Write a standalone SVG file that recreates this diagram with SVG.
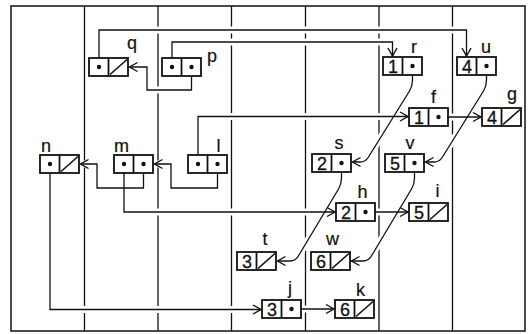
<svg xmlns="http://www.w3.org/2000/svg" width="530" height="334" viewBox="0 0 530 334">
<defs>
<style>
.frame{fill:none;stroke:#111;stroke-width:1.5}
.col{fill:none;stroke:#111;stroke-width:1.3}
.box{fill:#fff;stroke:#111;stroke-width:1.8}
.nil{stroke:#111;stroke-width:1.6}
.dot{fill:#111}
.num{font-family:"Liberation Sans",Arial,sans-serif;font-size:18px;fill:#111;stroke:#111;stroke-width:0.3;text-anchor:middle}
.lab{font-family:"Liberation Sans",Arial,sans-serif;font-size:18px;fill:#111;stroke:#111;stroke-width:0.2}
.conn path{fill:none;stroke:#111;stroke-width:1.3;marker-end:url(#arr)}
.gap path{fill:none;stroke:#fff;stroke-width:7}
</style>
<marker id="arr" markerUnits="userSpaceOnUse" markerWidth="12" markerHeight="12" refX="0" refY="0" viewBox="-10 -6 12 12" orient="auto" overflow="visible">
<path d="M-8,-4.5 L0,0 L-8,4.5" fill="none" stroke="#111" stroke-width="1.4"/>
</marker>
</defs>
<rect width="530" height="334" fill="#fff"/>
<rect class="frame" x="11" y="6" width="514" height="325"/>
<g id="columns">
<line class="col" x1="84.5" y1="6" x2="84.5" y2="331"/>
<line class="col" x1="158" y1="6" x2="158" y2="331"/>
<line class="col" x1="231.5" y1="6" x2="231.5" y2="331"/>
<line class="col" x1="305.5" y1="6" x2="305.5" y2="331"/>
<line class="col" x1="379" y1="6" x2="379" y2="331"/>
<line class="col" x1="452.5" y1="6" x2="452.5" y2="331"/>
</g>
<g id="gaps" class="gap">
<path d="M99,67 V30 H466.5 V56"/>
<path d="M172,67 V42 H392.5 V56"/>
<path d="M191.5,67 V90 H147 V67 H129.5"/>
<path d="M412.5,66 L412.5,80 Q412.5,86 409.5,91 L368.5,157 Q365.5,162 360,162 L352.5,162"/>
<path d="M486.5,66 L486.5,80 Q486.5,86 483.5,91 L442.5,157 Q439.5,162 434,162 L425.5,162"/>
<path d="M198,164 V116.5 H408"/>
<path d="M438.5,117 H481"/>
<path d="M217.5,164 V188 H171 V164 H154.5"/>
<path d="M143.5,164 V188 H97 V164 H80.5"/>
<path d="M124,164 V212 H335"/>
<path d="M365.5,212 H408"/>
<path d="M341.5,163 L341.5,178 Q341.5,184 338.5,189 L299,255 Q296,261 290,261 H277.5"/>
<path d="M414.5,163 L414.5,178 Q414.5,184 411.5,189 L372,255 Q369,261 363,261 H351.5"/>
<path d="M50,164 V309.5 H261"/>
<path d="M291.5,309 H334"/>
</g>
<g id="connectors" class="conn">
<path d="M99,67 V30 H466.5 V56"/>
<path d="M172,67 V42 H392.5 V56"/>
<path d="M191.5,67 V90 H147 V67 H129.5"/>
<path d="M412.5,66 L412.5,80 Q412.5,86 409.5,91 L368.5,157 Q365.5,162 360,162 L352.5,162"/>
<path d="M486.5,66 L486.5,80 Q486.5,86 483.5,91 L442.5,157 Q439.5,162 434,162 L425.5,162"/>
<path d="M198,164 V116.5 H408"/>
<path d="M438.5,117 H481"/>
<path d="M217.5,164 V188 H171 V164 H154.5"/>
<path d="M143.5,164 V188 H97 V164 H80.5"/>
<path d="M124,164 V212 H335"/>
<path d="M365.5,212 H408"/>
<path d="M341.5,163 L341.5,178 Q341.5,184 338.5,189 L299,255 Q296,261 290,261 H277.5"/>
<path d="M414.5,163 L414.5,178 Q414.5,184 411.5,189 L372,255 Q369,261 363,261 H351.5"/>
<path d="M50,164 V309.5 H261"/>
<path d="M291.5,309 H334"/>
</g>
<g id="q"><rect class="box" x="89" y="58" width="39" height="18"/><line class="box" x1="108.5" y1="58" x2="108.5" y2="76"/><circle class="dot" cx="99" cy="67" r="2.2"/><line class="nil" x1="110" y1="74.5" x2="127" y2="59.5"/><text class="lab" x="127" y="49">q</text></g>
<g id="p"><rect class="box" x="162" y="58" width="39" height="18"/><line class="box" x1="181.5" y1="58" x2="181.5" y2="76"/><circle class="dot" cx="172" cy="67" r="2.2"/><circle class="dot" cx="191.5" cy="67" r="2.2"/><text class="lab" x="207" y="62">p</text></g>
<g id="r"><rect class="box" x="383" y="57" width="39" height="18"/><line class="box" x1="402.5" y1="57" x2="402.5" y2="75"/><text class="num" x="393" y="72.5">1</text><circle class="dot" cx="412.5" cy="66" r="2.2"/><text class="lab" x="411" y="53">r</text></g>
<g id="u"><rect class="box" x="457" y="57" width="39" height="18"/><line class="box" x1="476.5" y1="57" x2="476.5" y2="75"/><text class="num" x="467" y="72.5">4</text><circle class="dot" cx="486.5" cy="66" r="2.2"/><text class="lab" x="481" y="53">u</text></g>
<g id="f"><rect class="box" x="409" y="108" width="39" height="18"/><line class="box" x1="428.5" y1="108" x2="428.5" y2="126"/><text class="num" x="419" y="123.5">1</text><circle class="dot" cx="438.5" cy="117" r="2.2"/><text class="lab" x="431" y="103">f</text></g>
<g id="g"><rect class="box" x="482" y="108" width="39" height="18"/><line class="box" x1="501.5" y1="108" x2="501.5" y2="126"/><text class="num" x="492" y="123.5">4</text><line class="nil" x1="503" y1="124.5" x2="520" y2="109.5"/><text class="lab" x="507" y="100">g</text></g>
<g id="n"><rect class="box" x="40" y="155" width="39" height="18"/><line class="box" x1="59.5" y1="155" x2="59.5" y2="173"/><circle class="dot" cx="50" cy="164" r="2.2"/><line class="nil" x1="61" y1="171.5" x2="78" y2="156.5"/><text class="lab" x="41" y="152">n</text></g>
<g id="m"><rect class="box" x="114" y="155" width="39" height="18"/><line class="box" x1="133.5" y1="155" x2="133.5" y2="173"/><circle class="dot" cx="124" cy="164" r="2.2"/><circle class="dot" cx="143.5" cy="164" r="2.2"/><text class="lab" x="114" y="152">m</text></g>
<g id="l"><rect class="box" x="188" y="155" width="39" height="18"/><line class="box" x1="207.5" y1="155" x2="207.5" y2="173"/><circle class="dot" cx="198" cy="164" r="2.2"/><circle class="dot" cx="217.5" cy="164" r="2.2"/><text class="lab" x="216.5" y="152">l</text></g>
<g id="s"><rect class="box" x="312" y="154" width="39" height="18"/><line class="box" x1="331.5" y1="154" x2="331.5" y2="172"/><text class="num" x="322" y="169.5">2</text><circle class="dot" cx="341.5" cy="163" r="2.2"/><text class="lab" x="334.5" y="149">s</text></g>
<g id="v"><rect class="box" x="385" y="154" width="39" height="18"/><line class="box" x1="404.5" y1="154" x2="404.5" y2="172"/><text class="num" x="395" y="169.5">5</text><circle class="dot" cx="414.5" cy="163" r="2.2"/><text class="lab" x="405.5" y="149">v</text></g>
<g id="h"><rect class="box" x="336" y="203" width="39" height="18"/><line class="box" x1="355.5" y1="203" x2="355.5" y2="221"/><text class="num" x="346" y="218.5">2</text><circle class="dot" cx="365.5" cy="212" r="2.2"/><text class="lab" x="357.5" y="198">h</text></g>
<g id="i"><rect class="box" x="409" y="203" width="39" height="18"/><line class="box" x1="428.5" y1="203" x2="428.5" y2="221"/><text class="num" x="419" y="218.5">5</text><line class="nil" x1="430" y1="219.5" x2="447" y2="204.5"/><text class="lab" x="435.5" y="197">i</text></g>
<g id="t"><rect class="box" x="237" y="252" width="39" height="18"/><line class="box" x1="256.5" y1="252" x2="256.5" y2="270"/><text class="num" x="247" y="267.5">3</text><line class="nil" x1="258" y1="268.5" x2="275" y2="253.5"/><text class="lab" x="262.5" y="245">t</text></g>
<g id="w"><rect class="box" x="311" y="252" width="39" height="18"/><line class="box" x1="330.5" y1="252" x2="330.5" y2="270"/><text class="num" x="321" y="267.5">6</text><line class="nil" x1="332" y1="268.5" x2="349" y2="253.5"/><text class="lab" x="326" y="245">w</text></g>
<g id="j"><rect class="box" x="262" y="300" width="39" height="18"/><line class="box" x1="281.5" y1="300" x2="281.5" y2="318"/><text class="num" x="272" y="315.5">3</text><circle class="dot" cx="291.5" cy="309" r="2.2"/><text class="lab" x="288" y="294">j</text></g>
<g id="k"><rect class="box" x="335" y="300" width="39" height="18"/><line class="box" x1="354.5" y1="300" x2="354.5" y2="318"/><text class="num" x="345" y="315.5">6</text><line class="nil" x1="356" y1="316.5" x2="373" y2="301.5"/><text class="lab" x="356" y="296">k</text></g>
</svg>
